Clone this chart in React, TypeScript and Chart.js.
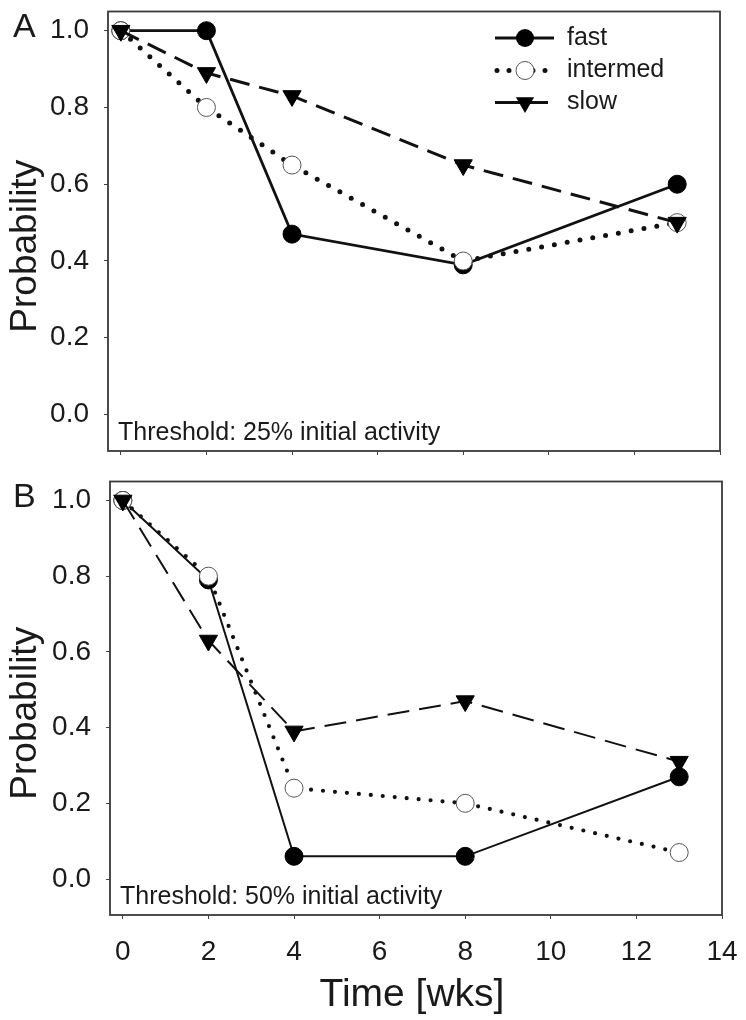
import React, { useEffect, useRef } from "react";
import { Chart, registerables } from "chart.js";

Chart.register(...registerables);

// ---------- data ----------
const weeks = [0, 2, 4, 8, 13];
const xTicks = [0, 2, 4, 6, 8, 10, 12, 14];
const yTicks = [0, 0.2, 0.4, 0.6, 0.8, 1.0];
const seriesNames = ["fast", "intermed", "slow"];

const fastA = [1.0, 1.0, 0.47, 0.39, 0.6];
const intermedA = [1.0, 0.8, 0.65, 0.4, 0.5];
const slowA = [1.0, 0.89, 0.83, 0.65, 0.5];

const fastB = [1.0, 0.79, 0.06, 0.06, 0.27];
const intermedB = [1.0, 0.8, 0.24, 0.2, 0.07];
const slowB = [1.0, 0.63, 0.39, 0.47, 0.31];

const thresholdA = "Threshold: 25% initial activity";
const thresholdB = "Threshold: 50% initial activity";
const yTitle = "Probability";
const xTitle = "Time [wks]";

// ---------- styling ----------
const W = 746;
const FONT = '"Liberation Sans", Arial, Helvetica, sans-serif';
const INK = "#1a1a1a";

type Area = { left: number; top: number; right: number; bottom: number };
type Spec = {
  letter: string;
  threshold: string;
  fast: number[];
  intermed: number[];
  slow: number[];
  offset: number;
  height: number;
  area: Area;
  showXLabels: boolean;
  showLegend: boolean;
  fastWidth: number;
  slowWidth: number;
  slowDash: number[];
  dotWidth: number;
  dotGap: number;
};

const toPts = (vals: number[]) => weeks.map((w, i) => ({ x: w, y: vals[i] }));

function drawMarker(ctx: CanvasRenderingContext2D, kind: string, x: number, y: number) {
  ctx.save();
  ctx.setLineDash([]);
  if (kind === "fast") {
    ctx.beginPath();
    ctx.arc(x, y, 9, 0, Math.PI * 2);
    ctx.fillStyle = "#000";
    ctx.fill();
  } else if (kind === "intermed") {
    ctx.beginPath();
    ctx.arc(x, y, 9, 0, Math.PI * 2);
    ctx.fillStyle = "#fff";
    ctx.fill();
    ctx.lineWidth = 1;
    ctx.strokeStyle = "#555";
    ctx.stroke();
  } else {
    const r = 10.5;
    ctx.beginPath();
    ctx.moveTo(x, y + r);
    ctx.lineTo(x - r * Math.sin((2 * Math.PI) / 3), y - r * 0.5);
    ctx.lineTo(x + r * Math.sin((2 * Math.PI) / 3), y - r * 0.5);
    ctx.closePath();
    ctx.fillStyle = "#000";
    ctx.fill();
  }
  ctx.restore();
}

function makeDecor(spec: Spec) {
  return {
    id: "decor" + spec.letter,
    afterDraw(chart: any) {
      const ctx: CanvasRenderingContext2D = chart.ctx;
      const a = chart.chartArea;
      ctx.save();
      // frame
      ctx.strokeStyle = "#3a3a3a";
      ctx.lineWidth = 1.8;
      ctx.strokeRect(a.left, a.top, a.right - a.left, a.bottom - a.top);

      // panel letter
      ctx.fillStyle = INK;
      ctx.textAlign = "left";
      ctx.textBaseline = "alphabetic";
      ctx.font = `34px ${FONT}`;
      ctx.fillText(spec.letter, 13, 37);

      // threshold note
      ctx.font = `25px ${FONT}`;
      ctx.fillText(spec.threshold, a.left + 10, a.bottom - 11);

      // y title
      ctx.save();
      ctx.translate(36, (a.top + a.bottom) / 2 + 15);
      ctx.rotate(-Math.PI / 2);
      ctx.textAlign = "center";
      ctx.font = `37px ${FONT}`;
      ctx.fillText(yTitle, 0, 0);
      ctx.restore();

      // x title
      if (spec.showXLabels) {
        ctx.textAlign = "center";
        ctx.font = `39px ${FONT}`;
        ctx.fillText(xTitle, 412, spec.height - 14);
      }

      // legend
      if (spec.showLegend) {
        const rows = [38, 70.5, 102.5];
        const x0 = 495;
        const x1 = 554;
        const xm = 525;
        seriesNames.forEach((name, i) => {
          const y = rows[i];
          ctx.save();
          ctx.strokeStyle = "#111";
          ctx.beginPath();
          if (name === "intermed") {
            ctx.lineWidth = spec.dotWidth;
            ctx.lineCap = "round";
            ctx.setLineDash([0, 12]);
            ctx.moveTo(x0 + 2, y);
            ctx.lineTo(x1, y);
          } else {
            ctx.lineWidth = 3;
            ctx.moveTo(x0, y);
            ctx.lineTo(name === "slow" ? x1 - 6 : x1, y);
          }
          ctx.stroke();
          ctx.restore();
          drawMarker(ctx, name, xm, y);
          ctx.fillStyle = INK;
          ctx.textAlign = "left";
          ctx.textBaseline = "middle";
          ctx.font = `25px ${FONT}`;
          ctx.fillText(name, 567, y);
        });
      }
      ctx.restore();
    },
  };
}

function buildConfig(spec: Spec): any {
  const a = spec.area;
  const tickFont = { family: FONT, size: 28 };
  return {
    type: "line",
    data: {
      datasets: [
        {
          label: seriesNames[0],
          data: toPts(spec.fast),
          order: 3,
          borderColor: "#111",
          borderWidth: spec.fastWidth,
          pointStyle: "circle",
          pointRadius: 9,
          pointBackgroundColor: "#000",
          pointBorderColor: "#000",
          pointBorderWidth: 1,
          tension: 0,
          fill: false,
        },
        {
          label: seriesNames[1],
          data: toPts(spec.intermed),
          order: 2,
          borderColor: "#111",
          borderWidth: spec.dotWidth,
          borderDash: [0, spec.dotGap],
          borderCapStyle: "round",
          pointStyle: "circle",
          pointRadius: 9,
          pointBackgroundColor: "#fff",
          pointBorderColor: "#555",
          pointBorderWidth: 1,
          tension: 0,
          fill: false,
        },
        {
          label: seriesNames[2],
          data: toPts(spec.slow),
          order: 1,
          borderColor: "#111",
          borderWidth: spec.slowWidth,
          borderDash: spec.slowDash,
          pointStyle: "triangle",
          rotation: 180,
          pointRadius: 10.5,
          pointBackgroundColor: "#000",
          pointBorderColor: "#000",
          pointBorderWidth: 1,
          tension: 0,
          fill: false,
        },
      ],
    },
    options: {
      responsive: false,
      animation: false,
      devicePixelRatio: 1,
      clip: false,
      layout: { padding: { left: 0, top: a.top, right: W - a.right, bottom: 0 } },
      plugins: { legend: { display: false }, tooltip: { enabled: false } },
      scales: {
        x: {
          type: "linear",
          min: -0.3,
          max: 14,
          afterBuildTicks: (s: any) => {
            s.ticks = xTicks.map((v) => ({ value: v }));
          },
          afterFit: (s: any) => {
            s.height = spec.height - a.bottom;
            s.paddingLeft = 0;
            s.paddingRight = 0;
          },
          grid: { drawOnChartArea: false, drawTicks: true, tickLength: 4, color: "#444", lineWidth: 1 },
          border: { display: false },
          ticks: {
            padding: 16,
            font: tickFont,
            color: INK,
            maxRotation: 0,
            autoSkip: false,
            callback: (v: any) => (spec.showXLabels ? String(v) : ""),
          },
        },
        y: {
          type: "linear",
          min: -0.095,
          max: 1.05,
          afterBuildTicks: (s: any) => {
            s.ticks = yTicks.map((v) => ({ value: v }));
          },
          afterFit: (s: any) => {
            s.width = a.left;
            s.paddingTop = 0;
            s.paddingBottom = 0;
          },
          grid: { drawOnChartArea: false, drawTicks: true, tickLength: 4, color: "#444", lineWidth: 1 },
          border: { display: false },
          ticks: {
            padding: 15,
            font: tickFont,
            color: INK,
            callback: (v: any) => Number(v).toFixed(1),
          },
        },
      },
    },
    plugins: [makeDecor(spec)],
  };
}

const specA: Spec = {
  letter: "A",
  threshold: thresholdA,
  fast: fastA,
  intermed: intermedA,
  slow: slowA,
  offset: 0,
  height: 470,
  area: { left: 108, top: 8, right: 720, bottom: 451 },
  showXLabels: false,
  showLegend: true,
  fastWidth: 2.8,
  slowWidth: 3,
  slowDash: [20, 10],
  dotWidth: 5,
  dotGap: 13,
};

const specB: Spec = {
  letter: "B",
  threshold: thresholdB,
  fast: fastB,
  intermed: intermedB,
  slow: slowB,
  offset: 470,
  height: 550,
  area: { left: 110, top: 8, right: 722, bottom: 445 },
  showXLabels: true,
  showLegend: false,
  fastWidth: 2,
  slowWidth: 2,
  slowDash: [22, 10],
  dotWidth: 4.2,
  dotGap: 12,
};

function Panel({ spec }: { spec: Spec }) {
  const ref = useRef<HTMLCanvasElement | null>(null);
  useEffect(() => {
    if (!ref.current) return;
    const chart = new Chart(ref.current, buildConfig(spec));
    return () => chart.destroy();
  }, [spec]);
  return (
    <canvas
      ref={ref}
      width={W}
      height={spec.height}
      style={{ position: "absolute", left: 0, top: spec.offset, width: W, height: spec.height }}
    />
  );
}

export default function App() {
  return (
    <div style={{ position: "absolute", left: 0, top: 0, width: W, height: 1020, background: "#fff" }}>
      <Panel spec={specA} />
      <Panel spec={specB} />
    </div>
  );
}
